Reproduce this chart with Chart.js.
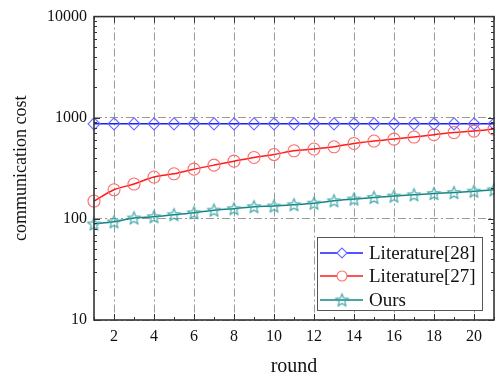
<!DOCTYPE html>
<html>
<head>
<meta charset="utf-8">
<script src="https://cdn.jsdelivr.net/npm/chart.js@4.4.0/dist/chart.umd.min.js"></script>
<style>
  html, body { margin: 0; padding: 0; background: #fff; }
  #wrap { width: 495px; height: 379px; }
</style>
</head>
<body>
<div id="wrap"><canvas id="c"></canvas></div>
<script>
/* communication cost vs round, log y axis */

const rounds = [1, 2, 3, 4, 5, 6, 7, 8, 9, 10, 11, 12, 13, 14, 15, 16, 17, 18, 19, 20, 21];
const lit28 = [870, 870, 870, 870, 870, 870, 870, 870, 870, 870, 870, 870, 870, 870, 870, 870, 870, 870, 870, 870, 870];
const lit27 = [150, 194, 221, 259, 279, 310, 340, 372, 405, 433, 471, 490, 516, 557, 588, 615, 644, 679, 714, 738, 773];
const ours = [89, 93.5, 102, 105, 110, 115, 122, 126, 132, 134, 138, 143, 151, 157, 163, 168, 173, 178, 182, 188, 194];
const xTicks = [2, 4, 6, 8, 10, 12, 14, 16, 18, 20];
const yTicks = [10, 100, 1000, 10000];

const SERIF = "'Liberation Serif', 'Times New Roman', serif";
const GRID = "#9a9a9a";
const FRAME = "#333";

function starCanvas(color, r) {
  const s = Math.ceil(2 * r + 4);
  const c = document.createElement("canvas");
  c.width = c.height = s;
  const ctx = c.getContext("2d");
  ctx.beginPath();
  for (let i = 0; i < 10; i++) {
    const a = -Math.PI / 2 + i * Math.PI / 5;
    const rad = i % 2 ? r * 0.45 : r;
    const x = s / 2 + rad * Math.cos(a), y = s / 2 + 0.5 + rad * Math.sin(a);
    i ? ctx.lineTo(x, y) : ctx.moveTo(x, y);
  }
  ctx.closePath();
  ctx.strokeStyle = color;
  ctx.lineWidth = 1.1;
  ctx.stroke();
  return c;
}

const series = [
  { label: "Literature[28]", data: lit28, line: "#1a1aff", mark: "#6a6aff", style: "rectRot", r: 6 },
  { label: "Literature[27]", data: lit27, line: "#ff1a1a", mark: "#ff6a6a", style: "circle", r: 6 },
  { label: "Ours", data: ours, line: "#168484", mark: "#3aa3a3", style: starCanvas("#3aa3a3", 6.5), r: 6 },
];

// frame, inward ticks and the boxed legend
const decor = {
  id: "decor",
  afterDraw(chart) {
    const { ctx, chartArea: a, scales: { x, y } } = chart;
    ctx.save();
    ctx.strokeStyle = FRAME;
    ctx.lineWidth = 1;
    ctx.beginPath();
    for (const v of rounds) {
      const px = Math.round(x.getPixelForValue(v)) + 0.5;
      const len = v % 2 === 0 ? 6 : 3;
      ctx.moveTo(px, a.bottom); ctx.lineTo(px, a.bottom - len);
      ctx.moveTo(px, a.top); ctx.lineTo(px, a.top + len);
    }
    for (let d = 10; d < 10000; d *= 10) {
      for (let m = 1; m <= 9; m++) {
        const py = Math.round(y.getPixelForValue(d * m)) + 0.5;
        const len = m === 1 ? 6 : 3;
        ctx.moveTo(a.left, py); ctx.lineTo(a.left + len, py);
        ctx.moveTo(a.right, py); ctx.lineTo(a.right - len, py);
      }
    }
    ctx.stroke();
    ctx.lineWidth = 1.6;
    ctx.strokeRect(a.left, a.top, a.right - a.left, a.bottom - a.top);

    // legend
    const bx = a.right - 177, by = a.bottom - 83, bw = 165, bh = 73;
    ctx.fillStyle = "#fff";
    ctx.fillRect(bx, by, bw, bh);
    ctx.lineWidth = 1;
    ctx.strokeStyle = "#555";
    ctx.strokeRect(bx + 0.5, by + 0.5, bw, bh);
    const rowY = [16, 39, 63];
    series.forEach((s, i) => {
      const ly = by + rowY[i];
      ctx.strokeStyle = s.line;
      ctx.lineWidth = 1.5;
      ctx.beginPath();
      ctx.moveTo(bx + 3, ly); ctx.lineTo(bx + 46, ly);
      ctx.stroke();
      ctx.save();
      ctx.fillStyle = "#fff";
      ctx.strokeStyle = s.mark;
      ctx.lineWidth = 1.1;
      Chart.helpers.drawPoint(ctx, { pointStyle: s.style, radius: 5, borderWidth: 1.1 }, bx + 25, ly);
      ctx.restore();
      ctx.fillStyle = "#111";
      ctx.font = "19px " + SERIF;
      ctx.textBaseline = "middle";
      ctx.textAlign = "left";
      ctx.fillText(s.label, bx + 52, ly + 1);
    });
    ctx.restore();
  },
};

new Chart(document.getElementById("c"), {
  type: "line",
  data: {
    labels: rounds,
    datasets: series.map(s => ({
      label: s.label,
      data: rounds.map((r, i) => ({ x: r, y: s.data[i] })),
      borderColor: s.line,
      borderWidth: 1.5,
      pointStyle: s.style,
      pointRadius: s.r,
      pointBorderColor: s.mark,
      pointBackgroundColor: "rgba(255,255,255,0)",
      pointBorderWidth: 1.1,
      cubicInterpolationMode: "monotone",
      clip: false,
    })),
  },
  options: {
    responsive: true,
    maintainAspectRatio: false,
    animation: false,
    devicePixelRatio: 1,
    layout: { autoPadding: false, padding: { top: 16, right: 1, left: 0, bottom: 0 } },
    plugins: { legend: { display: false }, tooltip: { enabled: false } },
    scales: {
      x: {
        type: "linear",
        min: 1, max: 21,
        afterBuildTicks: s => { s.ticks = xTicks.map(v => ({ value: v })); },
        afterFit: s => { s.height = 59; s.paddingLeft = 0; s.paddingRight = 0; },
        border: { display: false, dash: [8, 3, 2, 3] },
        grid: { color: GRID, lineWidth: 1, drawTicks: false },
        ticks: { color: "#111", padding: 7, maxRotation: 0, font: { family: SERIF, size: 16 } },
        title: { display: true, text: "round", color: "#111", padding: { top: 0, bottom: 0 }, font: { family: SERIF, size: 20 } },
      },
      y: {
        type: "logarithmic",
        min: 10, max: 10000,
        afterBuildTicks: s => { s.ticks = yTicks.map(v => ({ value: v })); },
        afterFit: s => { s.width = 94; },
        border: { display: false, dash: [8, 3, 2, 3] },
        grid: { color: GRID, lineWidth: 1, drawTicks: false },
        ticks: { color: "#111", padding: 7, font: { family: SERIF, size: 16 }, callback: v => String(v) },
        title: { display: true, text: "communication cost", color: "#111", padding: { top: 10, bottom: 0 }, font: { family: SERIF, size: 18 } },
      },
    },
  },
  plugins: [decor],
});
</script>
</body>
</html>
